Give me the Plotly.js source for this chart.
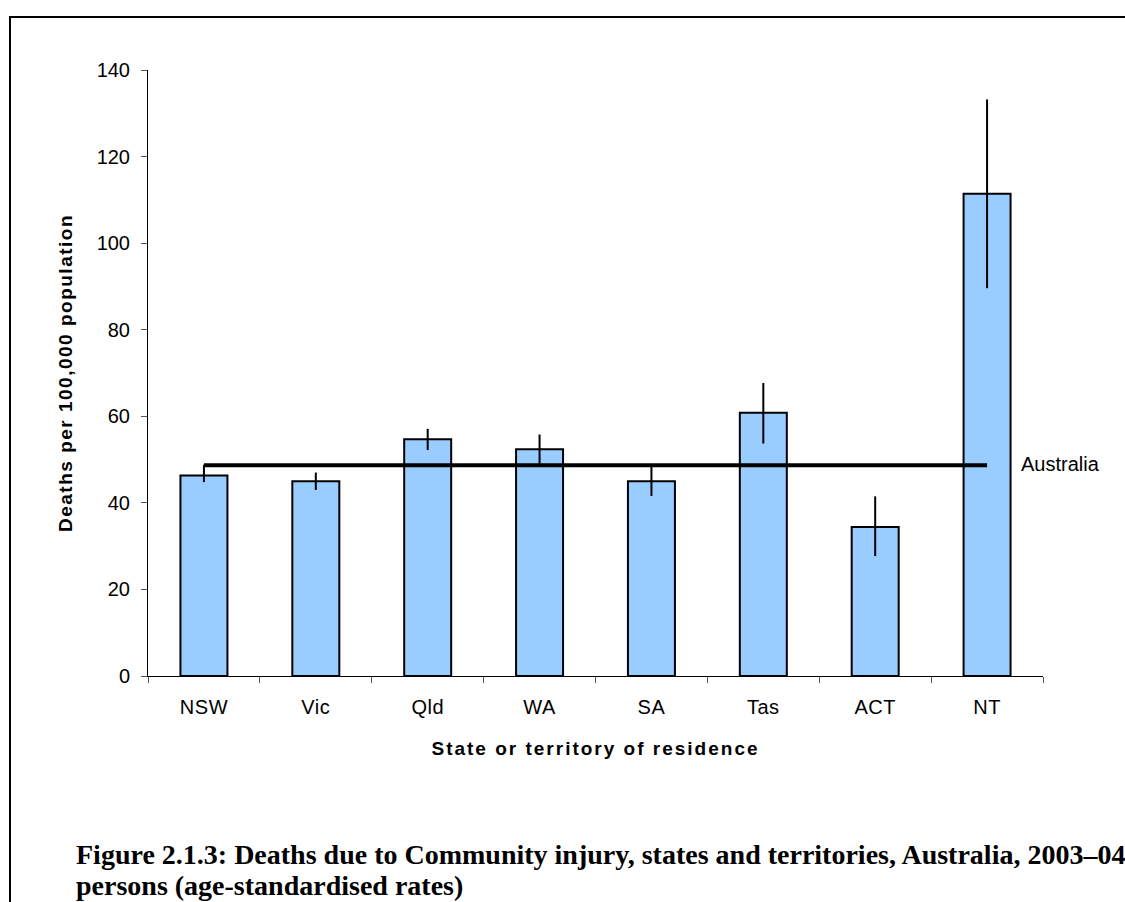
<!DOCTYPE html>
<html>
<head>
<meta charset="utf-8">
<script src="https://cdn.plot.ly/plotly-3.0.1.min.js"></script>
<style>
  html, body { margin: 0; padding: 0; background: #fff; overflow: hidden; }
  #wrap { position: relative; width: 1125px; height: 902px; }
  #frame { position: absolute; left: 9px; top: 16px; width: 1130px; height: 900px; border: 2px solid #000; box-sizing: border-box; pointer-events: none; z-index: 2; }
  #chart { position: absolute; left: 0; top: 0; width: 1125px; height: 902px; }
  #chart .xtitle { letter-spacing: 2px; }
  #chart .ytitle { letter-spacing: 1.5px; }
  #chart .xtick text { letter-spacing: 0.5px; }
  #chart .annotation:first-of-type text { letter-spacing: 2px; }
</style>
</head>
<body>
<div id="wrap">
  <div id="chart"></div>
  <div id="frame"></div>
</div>
<script>
const categories = ['NSW', 'Vic', 'Qld', 'WA', 'SA', 'Tas', 'ACT', 'NT'];
const rates = [46.3, 45.0, 54.7, 52.4, 45.0, 60.8, 34.4, 111.4];
const errUpper = [2.5, 2.0, 2.4, 3.4, 3.5, 6.9, 7.1, 21.8];
const errLower = [1.5, 2.0, 2.5, 3.5, 3.4, 7.1, 6.7, 21.8];
const australiaRate = 48.7;
const australiaLabel = 'Australia';
const captionLine1 = 'Figure 2.1.3: Deaths due to Community injury, states and territories, Australia, 2003–04:';
const captionLine2 = 'persons (age-standardised rates)';

const barTrace = {
  type: 'bar',
  x: categories,
  y: rates,
  marker: { color: '#99CCFF', line: { color: '#000', width: 2 } },
  error_y: { type: 'data', symmetric: false, array: errUpper, arrayminus: errLower, color: '#000', thickness: 2, width: 0 },
  hoverinfo: 'x+y'
};

const ausTrace = {
  type: 'scatter',
  mode: 'lines',
  x: [categories[0], categories[categories.length - 1]],
  y: [australiaRate, australiaRate],
  line: { color: '#000', width: 4 },
  hoverinfo: 'y'
};

const layout = {
  width: 1125,
  height: 902,
  margin: { l: 148, r: 82, t: 70, b: 226 },
  paper_bgcolor: '#fff',
  plot_bgcolor: '#fff',
  showlegend: false,
  bargap: 0.58,
  font: { family: 'Liberation Sans, Arial, sans-serif', color: '#000', size: 20 },
  xaxis: {
    type: 'category',
    range: [-0.5, categories.length - 0.5],
    showline: true, linecolor: '#000', linewidth: 1,
    ticks: 'outside', tickson: 'boundaries', ticklen: 6, tickcolor: '#555', tickwidth: 1,
    ticklabelstandoff: 13,
    showgrid: false, zeroline: false,
    tickfont: { size: 20 },
    title: { text: '<b>State or territory of residence</b>', font: { size: 19 }, standoff: 24 }
  },
  yaxis: {
    range: [0, 140], dtick: 20,
    showline: true, linecolor: '#000', linewidth: 1,
    ticks: 'outside', ticklen: 6, tickcolor: '#555', tickwidth: 1,
    ticklabelstandoff: 7,
    showgrid: false, zeroline: false,
    tickfont: { size: 20 },
    title: { text: '<b>Deaths per 100,000 population</b>', font: { size: 19 }, standoff: 18 }
  },
  annotations: [
    {
      x: categories[categories.length - 1], y: australiaRate, xref: 'x', yref: 'y',
      text: australiaLabel, showarrow: false, xanchor: 'left', xshift: 32, yshift: 1,
      font: { size: 20 }
    },
    {
      xref: 'paper', yref: 'paper', x: -0.0827, y: -0.295, xanchor: 'left', yanchor: 'middle', align: 'left',
      text: '<b>' + captionLine1 + '</b>',
      showarrow: false,
      font: { family: 'Liberation Serif, Times New Roman, serif', size: 28, color: '#000' }
    },
    {
      xref: 'paper', yref: 'paper', x: -0.0827, y: -0.346, xanchor: 'left', yanchor: 'middle', align: 'left',
      text: '<b>' + captionLine2 + '</b>',
      showarrow: false,
      font: { family: 'Liberation Serif, Times New Roman, serif', size: 28, color: '#000' }
    }
  ]
};

Plotly.newPlot('chart', [barTrace, ausTrace], layout, { displayModeBar: false, staticPlot: true });
</script>
</body>
</html>
